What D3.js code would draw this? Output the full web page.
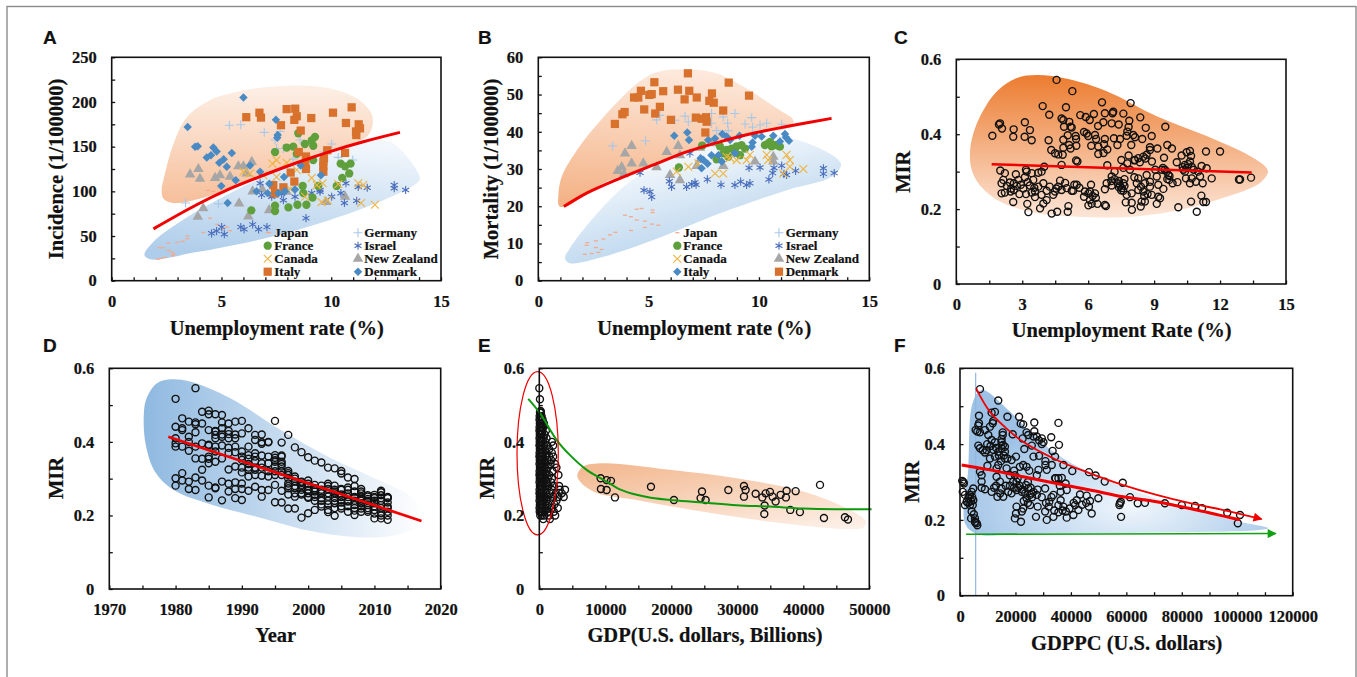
<!DOCTYPE html>
<html>
<head>
<meta charset="utf-8">
<script src="https://cdn.jsdelivr.net/npm/d3@7"></script>
<style>
	html, body { margin: 0; padding: 0; background: #fff; }
	svg { display: block; }
	text { font-family: "Liberation Serif", serif; font-weight: bold; fill: #111; stroke: #111; stroke-width: 0.2; }
</style>
</head>
<body>
<svg id="svg" width="1357" height="677"></svg>
<script>
// panel A - incidence vs unemployment
const aJapan = [[2.1,24],[2.25,25],[2.43,26],[2.78,28],[2.84,30],[2.73,32],[2.58,34],[2.17,37],[2.32,37],[2.58,42],[2.99,43],[3.23,44],[3.45,47],[3.45,50],[4.17,54],[4.48,70],[4.81,63],[5.06,58],[5.24,60],[5.39,56],[4.4,101],[4.63,100],[7.18,54]];
const aFrance = [[6.36,78.7],[7.44,144],[8.5,165],[9.26,161],[9.11,157],[8.8,153],[7.97,149],[8.27,150],[9.18,151],[8.43,142],[9.18,135],[10.43,131],[10.63,128],[10.88,131],[10.82,120],[10.5,115],[10.25,106],[7.44,84],[7.44,78],[8.05,82],[8.46,85],[8.87,85],[9.15,93],[8.73,98],[8.7,106],[9.41,106]];
const aCanada = [[7.51,135],[7.32,131],[7.97,132],[9.11,115],[9.61,109],[9.34,107],[9.56,88],[9.84,90],[8.81,94],[10.32,108],[11.23,109],[11.46,107],[11.36,87],[11.99,85],[6,122],[6.3,120],[6.91,118],[7.51,116],[8.12,103],[8.43,124]];
const aItaly = [[6.13,183],[6.73,188],[6.8,182.5],[7.71,174],[7.97,192],[8.36,192.5],[8.43,184],[8.32,180],[9.09,182],[8.61,168],[10.08,188],[10.93,194],[10.67,176.5],[11.25,175],[11.31,170.5],[11.13,167],[11.14,163],[8.52,144],[8.85,139],[8.82,131],[8.85,125],[9.67,137],[9.82,146],[9.64,128],[9.64,122],[10.63,143],[8.15,121],[8.32,111],[7.36,107],[7.82,104.5],[7.44,98],[9.64,133]];
const aGermany = [[3.36,87],[4.86,86],[5.36,174],[5.88,174.5],[6.95,166],[7.44,157.5],[7.67,167],[10.02,153],[10.32,138],[10.98,135],[8.88,137],[8.27,136],[7.51,148],[8.58,157.5],[7.82,148],[9.64,144]];
const aIsrael = [[4.55,53],[4.78,55.5],[5.01,60],[5.13,52],[5.88,60],[6.03,57.5],[6.42,63],[6.69,57.5],[7.07,60],[8.85,70],[7.82,90],[6.83,96],[7.29,94],[8.35,94],[9.11,98],[9.49,101.5],[9.49,99.5],[10.02,94],[10.44,98],[10.6,87],[11.16,89.5],[10.67,109],[11.23,105],[11.64,104],[12.87,107],[12.87,103.5],[13.39,101.5],[6.76,109],[7.74,97]];
const aNewZealand = [[3.57,119],[3.95,125],[4.02,114],[4.71,115],[4.93,118],[5.39,116.5],[5.77,128],[6,128],[6.38,133],[6.15,120],[6.42,100],[6.86,102],[7.36,96],[7.97,99.5],[5.8,86.5],[4.17,81],[3.92,71.5],[6.22,72],[7.17,79],[10.63,94],[9.76,88]];
const aDenmark = [[3.46,172],[3.8,150],[3.92,150.5],[4.63,149],[4.78,144.5],[4.33,138],[4.52,140.5],[5.1,136],[4.9,132],[5.24,127.5],[5.47,143],[4.99,106],[5.65,112.5],[5.28,87],[6.3,129],[6,205],[6.76,122],[6.6,100],[7.1,98],[7.18,108.5],[7.59,98],[7.85,116],[7.89,100],[7.48,180],[7.56,163],[7.54,160],[8.35,102],[8.61,129],[9.53,118]];
const aTrend = [[1.9,58],[3.87,85],[5.39,103],[6.91,118],[8.43,132],[9.94,144.5],[11.46,155.5],[13.13,166]];
const aOrangeBlob = [[2.28,103],[2.35,112],[2.81,153],[3.42,183],[4.48,202],[6,213],[7.67,218],[9.49,217],[10.85,208],[11.61,195],[11.89,182],[11.69,163],[10.25,146],[8.43,131],[6.15,112],[4.33,94],[2.81,87],[2.35,92]];
const aBlueBlob = [[1.49,28.7],[1.9,43.7],[3.11,66],[4.78,90],[6.91,116],[9.18,139],[11.46,155.5],[12.68,155.5],[13.44,139],[14.04,114.5],[13.89,109],[12.37,90],[9.94,68],[6.91,47],[3.87,32],[1.75,24]];

// panel B - mortality vs unemployment
const bJapan = [[2.11,7.1],[2.42,7.3],[2.22,10.2],[2.19,9.5],[2.61,10.7],[2.61,8.9],[2.95,11.2],[3.25,12.3],[3.5,13],[2.87,8.4],[2.72,7.6],[3.93,17.6],[4.2,17.2],[4.46,19.2],[4.68,19.4],[5.18,19],[5.18,18.3],[4.46,16.3],[4.83,16],[4.2,13.5],[4.83,14.3],[5.14,15.2],[5.44,14.9]];
const bFrance = [[6.37,30.4],[7.43,36.3],[8.08,32.6],[8.23,36.1],[8.38,34.2],[8.53,35.1],[8.76,35.5],[8.99,36.1],[9.21,36.4],[9.37,35.5],[9.14,33.7],[10.27,36.4],[10.42,36.9],[10.57,36.1],[10.73,36.4],[10.95,36],[8.61,33.3],[8.91,34.6],[10.5,37.3],[10.88,36.2]];
const bCanada = [[6.27,29.3],[6.8,30.6],[7.25,31.5],[8.01,28.8],[8.38,28.8],[8.53,33.3],[8.99,32.4],[9.59,33.8],[10.35,33.8],[10.42,32.4],[11.25,33.8],[11.4,32.4],[11.4,30.6],[11.1,28.8],[12.01,30],[8.69,33],[9.44,32.4]];
const bItaly = [[6.16,38.9],[6.75,39.8],[6.83,37.8],[7.36,32.9],[7.4,30.2],[7.7,37.8],[7.67,31.4],[7.85,33.7],[8.16,33.7],[8.01,38.2],[8.31,32],[8.34,39.4],[8.53,38.7],[8.69,37.8],[8.91,34.2],[9.12,38.9],[9.67,36],[9.71,37.1],[9.82,38.9],[10.12,38.7],[10.65,38.9],[10.95,37.4],[11.18,39.4],[11.22,38.5],[11.36,37.6],[7.48,32.4]];
const bGermany = [[3.37,36.2],[4.86,37.6],[5.36,43.2],[5.51,44.4],[6.19,43.1],[6.65,44.2],[6.8,42.7],[7.85,44.9],[7.85,42.3],[8.38,44],[8.58,42.3],[8.91,44.9],[9.37,42.1],[9.67,43.8],[9.71,41.2],[10.05,41.8],[10.35,42.3],[11.03,42],[8.08,40.3],[8.61,40.3]];
const bIsrael = [[4.61,29],[4.79,24.3],[5.06,23.9],[5.14,22.5],[5.94,26.7],[6.04,25.2],[6.72,25.2],[6.95,25.9],[7.1,26.4],[7.15,25.8],[7.66,27.2],[8.28,25.8],[8.91,25.7],[9.17,26.6],[9.44,25.7],[9.59,26.2],[9.55,30.3],[10.05,30.4],[10.45,27.2],[10.62,28.9],[10.68,30.3],[11.03,30.9],[11.13,28.7],[11.25,28.4],[11.66,29.5],[12.92,30.2],[12.92,28.7],[13.41,28.9],[6.87,34.2]];
const bNewZealand = [[3.6,29.5],[3.78,30.5],[3.93,34.2],[4.23,36.2],[4.23,31.5],[4.76,31.5],[3.88,28.6],[5.82,34.6],[6.34,36.2],[6.42,33.7],[5.97,28.4],[6.42,27],[7.33,35.7],[7.18,30.8],[7.93,36.9],[8.38,30.8],[9.82,32],[10.65,33.3],[10.65,32],[5.36,30.5],[7.33,32.4]];
const bDenmark = [[3.47,42.1],[3.81,44.7],[3.91,45.3],[4.34,49.2],[4.53,49.2],[4.65,51],[5.03,49.9],[5.14,50.1],[5.26,53.3],[5.66,50.9],[4.8,46],[5.3,44.9],[5.51,46.7],[6.01,43.2],[6.33,51.3],[6.63,48.7],[6.84,51],[6.78,55.7],[7.18,49.2],[7.14,43.8],[7.4,43.5],[7.6,43.9],[7.57,39.8],[7.75,48.3],[7.95,47.8],[7.87,50.3],[8.38,45.7],[8.63,53.2],[9.55,49.7],[7.63,42.7]];
const bTrend = [[1.16,19.9],[2.19,23.5],[3.7,27.5],[5.21,31.1],[6.72,34.6],[8.23,37.3],[9.74,39.6],[11.25,41.4],[13.29,43.6]];
const bOrangeBlob = [[0.91,23],[1.06,27.9],[1.74,35],[2.95,43.9],[4.46,52.9],[5.36,56],[6.72,56.8],[8.08,55.7],[9.44,51.6],[10.8,46.3],[11.56,43.1],[11.48,41.4],[9.74,39.6],[7.48,36.5],[5.21,31.1],[2.95,26.2],[1.28,20],[0.95,20]];
const bBlueBlob = [[1.21,6],[1.43,8.7],[2.95,19.9],[4.46,27.9],[6.72,34.2],[8.99,38.2],[10.5,39.1],[12.01,37.3],[13.52,32.9],[13.72,31.1],[13.29,27.9],[11.25,24.3],[8.23,18.1],[5.21,10.9],[2.95,6.4],[1.43,4.7]];

const legendLeft = ['Japan', 'France', 'Canada', 'Italy'];
const legendRight = ['Germany', 'Israel', 'New Zealand', 'Denmark'];

// panel C - MIR vs unemployment
const cPoints = [[4.56,.545],[5.28,.515],[3.93,.475],[4.23,.452],[4.99,.472],[6.63,.485],[7.93,.483],[5.64,.451],[5.89,.446],[6.26,.454],[6.76,.456],[7.14,.46],[7.11,.456],[7.6,.455],[8.37,.445],[7.87,.436],[4.79,.442],[4.87,.438],[5.14,.433],[6.07,.438],[6.69,.432],[7.07,.429],[7.39,.426],[6.45,.422],[4.9,.42],[5.2,.42],[5.25,.418],[7.84,.419],[8.62,.417],[9.51,.42],[1.99,.429],[1.94,.426],[2.08,.415],[1.64,.396],[2.61,.413],[2.59,.393],[3.12,.432],[3.35,.411],[3.11,.393],[3.43,.384],[4.2,.384],[4.87,.385],[5.07,.397],[5.43,.395],[5.45,.387],[5.81,.406],[5.93,.402],[6.31,.398],[6.36,.387],[6.76,.387],[7.17,.389],[7.45,.387],[7.75,.396],[7.78,.407],[8.05,.398],[8.13,.392],[8.46,.387],[8.89,.395],[7.96,.371],[7.33,.371],[6.72,.373],[6.14,.369],[6.46,.367],[6.87,.359],[6.46,.347],[5.46,.369],[5.13,.371],[4.87,.364],[4.32,.358],[4.49,.349],[4.64,.346],[4.84,.345],[8.81,.365],[9.15,.362],[8.81,.358],[8.66,.345],[8.51,.34],[8.28,.336],[8.13,.331],[7.84,.343],[7.51,.331],[7.78,.322],[9.45,.337],[9.6,.371],[9.81,.362],[10.03,.325],[10.25,.343],[10.48,.352],[10.63,.355],[10.68,.342],[10.63,.327],[11.36,.354],[12,.354],[5.45,.33],[5.51,.327],[4.79,.318],[4,.313],[6.87,.317],[8.9,.327],[3.17,.305],[3.88,.3],[3.73,.297],[2,.303],[2.21,.296],[2.71,.293],[3.43,.296],[3.12,.285],[2.14,.278],[2.06,.269],[2.44,.271],[2.82,.278],[2.62,.269],[2.94,.265],[3.35,.263],[3.5,.278],[3.73,.26],[3.96,.269],[2.06,.242],[2.21,.244],[2.47,.247],[2.62,.251],[2.87,.24],[3.17,.24],[3.43,.244],[3.58,.247],[3.58,.232],[3.88,.238],[4.11,.249],[2.59,.219],[3.23,.214],[3.28,.192],[3.81,.202],[3.96,.215],[4.11,.224],[4.34,.188],[4.59,.193],[5.07,.193],[5.1,.208],[4.41,.238],[4.49,.247],[4.72,.276],[4.64,.26],[4.79,.251],[5.02,.256],[5.25,.249],[5.37,.265],[5.48,.265],[5.32,.249],[5.85,.247],[6.13,.265],[6.01,.242],[6.08,.247],[6.31,.242],[5.81,.233],[6.08,.224],[6.01,.21],[6.16,.214],[6.42,.214],[6.76,.211],[6.81,.208],[6.76,.253],[6.84,.269],[7.07,.263],[7.07,.287],[7.34,.269],[7.45,.263],[7.6,.269],[7.53,.256],[7.6,.249],[7.75,.238],[7.71,.218],[7.98,.242],[7.98,.217],[7.99,.198],[8.21,.269],[8.28,.282],[8.28,.251],[8.51,.247],[8.43,.22],[8.39,.207],[8.58,.22],[8.66,.291],[8.81,.273],[8.58,.269],[8.81,.26],[8.89,.238],[9.12,.214],[9.27,.229],[9.19,.233],[9.12,.287],[9.19,.265],[9.42,.254],[9.49,.305],[9.65,.291],[9.57,.3],[9.69,.278],[9.84,.269],[10.06,.272],[10.1,.205],[10.45,.282],[10.33,.305],[10.63,.269],[10.71,.282],[10.9,.273],[11.09,.287],[11.21,.269],[10.71,.313],[10.4,.318],[11.16,.315],[11.39,.309],[11.62,.282],[10.68,.22],[10.94,.193],[11.15,.236],[11.24,.219],[11.36,.219],[12.86,.279],[12.91,.279],[13.41,.284],[7.4,.258],[7.5,.25],[7.65,.262],[10.5,.31],[10.3,.312],[9.4,.31],[9.7,.288],[2.3,.262],[2.5,.255],[2.75,.262],[3.05,.255],[3.25,.272],[3.55,.257],[3.2,.3],[4.25,.26],[4.55,.255],[4.95,.27],[5.6,.257],[6.2,.235],[6.35,.23],[7.2,.28],[7.4,.275],[7.65,.28],[7.9,.305],[8.1,.285],[8.4,.26],[8.7,.24],[8.55,.235],[8.1,.33],[8.35,.325],[8.6,.335],[9.05,.305],[9.35,.305],[9.6,.28],[10.4,.3],[10.55,.32],[10.8,.305],[11,.3],[7.2,.3],[7.6,.31],[7.05,.275],[5.2,.362],[6,.395],[6.7,.35]];
const cTrend = [[1.61,.32],[13.44,.298]];
const cBlob = [[.62,.34],[.7,.385],[1.08,.447],[1.84,.514],[2.75,.55],[3.66,.558],[4.87,.55],[6.84,.515],[9.12,.448],[11.39,.395],[13.36,.342],[14.12,.31],[14.17,.297],[13.82,.27],[12.15,.23],[9.87,.194],[7.6,.178],[5.32,.18],[3.35,.193],[1.84,.225],[1,.269],[.7,.305]];

// panel D - MIR by year
const dYears = [
	[1980,[.517,.441,.41,.396,.387,.301,.281]],
	[1981,[.464,.432,.437,.387,.315,.295]],
	[1982,[.455,.414,.4,.376,.292,.272]],
	[1983,[.546,.453,.448,.426,.387,.355,.303,.269]],
	[1984,[.482,.45,.396,.354,.324,.295]],
	[1985,[.485,.475,.432,.392,.39,.36,.354,.342,.281,.249]],
	[1986,[.475,.43,.428,.419,.41,.387,.374,.346,.276,.274]],
	[1987,[.473,.453,.437,.42,.414,.39,.355,.292,.241]],
	[1988,[.45,.43,.421,.41,.384,.37,.325,.286,.265]],
	[1989,[.455,.42,.41,.387,.372,.333,.29,.272,.247]],
	[1990,[.457,.423,.374,.36,.351,.33,.317,.287,.272,.242]],
	[1991,[.437,.387,.364,.354,.34,.33,.324,.306,.267]],
	[1992,[.419,.405,.369,.36,.348,.33,.324,.31,.278]],
	[1993,[.42,.399,.395,.363,.342,.33,.308,.269,.251]],
	[1994,[.4,.399,.36,.342,.32,.306,.269]],
	[1995,[.457,.364,.357,.35,.346,.333,.32,.31,.283,.236]],
	[1996,[.398,.363,.36,.346,.34,.333,.32,.31,.267,.235]],
	[1997,[.419,.321,.315,.31,.3,.287,.28,.274,.257,.219]],
	[1998,[.385,.306,.3,.292,.28,.274,.26,.251,.219]],
	[1999,[.372,.292,.29,.283,.28,.27,.26,.257,.194]],
	[2000,[.358,.295,.286,.28,.27,.269,.26,.25,.248,.206]],
	[2001,[.349,.283,.274,.27,.265,.256,.25,.24,.215]],
	[2002,[.344,.281,.27,.265,.26,.247,.24,.23,.224]],
	[2003,[.33,.286,.28,.272,.26,.251,.24,.23,.215,.209]],
	[2004,[.328,.281,.27,.265,.26,.247,.24,.233,.22,.199]],
	[2005,[.321,.314,.272,.27,.257,.25,.242,.235,.225,.219]],
	[2006,[.303,.276,.27,.26,.25,.24,.238,.225,.21]],
	[2007,[.299,.28,.265,.25,.247,.24,.228,.22,.213,.201]],
	[2008,[.272,.265,.26,.251,.245,.24,.233,.225,.219,.21]],
	[2009,[.255,.251,.245,.24,.228,.22,.215,.21]],
	[2010,[.256,.25,.247,.24,.233,.225,.215,.205,.192]],
	[2011,[.267,.263,.255,.247,.24,.228,.22,.206,.2,.192]],
	[2012,[.25,.248,.247,.235,.224,.22,.21,.2,.188]]
];
const dTrend = [[1978.9,.414],[2017.1,.185]];
const dBlob = [[1975.2,.473],[1975.6,.517],[1977.1,.558],[1979.2,.57],[1982.2,.564],[1988.2,.519],[1995.8,.433],[2003.3,.357],[2010.9,.294],[2015.9,.247],[2017.4,.21],[2016.9,.174],[2013.4,.147],[2008.4,.14],[2000.8,.156],[1993.2,.192],[1985.7,.228],[1979.7,.269],[1976.9,.319],[1975.5,.392]];

// panel E - MIR vs GDP
const eRight = [[9290,.301],[10200,.296],[10860,.294],[9340,.272],[10200,.269],[11460,.249],[16920,.278],[20400,.242],[24650,.265],[24440,.247],[25200,.242],[28640,.269],[31010,.28],[31260,.269],[31010,.251],[32780,.259],[33790,.249],[34290,.26],[34950,.264],[35350,.251],[35810,.238],[36570,.256],[37470,.267],[37370,.249],[38840,.266],[34140,.227],[34090,.204],[38030,.215],[39490,.209],[42530,.283],[43130,.193],[46310,.195],[46770,.189]];
const eLeftRows = [
	[.546,[0]],[.516,[100]],[.484,[200]],
	[.48,[100,250]],[.47,[50,200,350]],[.46,[30,150,300,500]],[.45,[80,220,420,700]],
	[.44,[40,180,350,600]],[.43,[20,130,280,480,1000]],[.42,[70,210,400,800]],
	[.41,[30,150,320,650,1100]],[.40,[60,240,500,900,1900]],[.39,[20,130,300,700,1200,2100]],
	[.38,[80,200,450,850,1500]],[.37,[40,160,350,600,1100,1900]],[.36,[20,120,280,520,900,1500,2100]],
	[.35,[70,230,430,750,1250,1800]],[.34,[30,150,330,600,1000,1700,2400]],[.33,[90,250,500,800,1300,2600]],
	[.32,[40,180,400,700,1100,2000]],[.31,[20,130,300,600,950,1500,2900]],[.30,[70,220,480,800,1300,1900]],
	[.29,[30,160,350,650,1100,1800]],[.28,[90,250,500,850,1400,2200,3000]],[.27,[40,180,400,700,1150,1900,3100,3900]],
	[.26,[20,130,300,600,1000,1600,2500,3400]],[.25,[70,220,480,800,1300,2100,2900,3700]],[.24,[30,160,350,650,1100,1800,2600]],
	[.23,[90,250,500,850,1400,2300]],[.22,[40,180,400,700,1150,1900,2800]],[.21,[60,230,450,800,1300,2200]],
	[.20,[150,400,750,1500,2400]],[.19,[600,1600]]
];
const eCurve = [[-1670,.517],[100,.478],[2630,.405],[4650,.364],[7170,.324],[9700,.297],[11200,.281],[12200,.271],[14750,.256],[16900,.248],[20400,.241],[24850,.235],[29900,.228],[34950,.224],[40000,.219],[45050,.217],[50350,.217]];
const eEllipse = [[-250,.369],[3130,.222]];
const eBlob = [[5760,.306],[6670,.333],[9700,.342],[19800,.324],[29900,.301],[40000,.265],[47580,.21],[49500,.183],[49090,.167],[46560,.163],[34950,.183],[24850,.21],[14750,.242],[8180,.265]];

// panel F - MIR vs GDP per capita
const fPoints = [[7200,.545],[13800,.515],[6850,.475],[11400,.483],[12600,.485],[17100,.472],[21300,.472],[21900,.454],[22800,.452],[26800,.457],[35500,.456],[6850,.455],[6600,.449],[5650,.437],[6250,.433],[7200,.431],[9000,.437],[10800,.446],[11800,.455],[12000,.461],[10200,.424],[11400,.411],[12600,.405],[15400,.431],[15400,.424],[15000,.413],[19000,.426],[24000,.431],[22600,.415],[24600,.424],[26800,.434],[27700,.42],[26500,.42],[29500,.415],[32900,.418],[30100,.405],[35700,.398],[33400,.382],[6600,.396],[7200,.389],[8200,.384],[9600,.384],[9000,.378],[10800,.362],[12600,.367],[13800,.38],[15000,.389],[16200,.393],[16200,.38],[17100,.362],[18600,.358],[20200,.367],[23200,.387],[25900,.396],[28500,.369],[26500,.367],[30800,.355],[30800,.345],[33100,.345],[34300,.367],[37300,.345],[40500,.329],[46500,.326],[48900,.317],[52200,.301],[58700,.298],[61300,.26],[64100,.244],[66700,.245],[73900,.244],[80000,.239],[84800,.237],[87300,.231],[96400,.219],[101000,.213],[100200,.191],[57700,.244],[57500,.239],[58100,.208],[58000,.248],[49900,.257],[47500,.217],[46500,.235],[46900,.25],[45700,.264],[43300,.267],[42100,.252],[41500,.239],[42700,.226],[40900,.213],[38500,.206],[38200,.222],[37300,.235],[35500,.239],[33700,.208],[31300,.2],[30700,.222],[32200,.248],[33700,.266],[36300,.252],[36300,.274],[38500,.279],[38100,.296],[36700,.311],[34300,.31],[31300,.332],[28300,.332],[27700,.318],[30700,.283],[27700,.266],[28000,.235],[27400,.208],[25300,.239],[22800,.23],[22000,.195],[22300,.222],[20400,.235],[20200,.217],[19800,.204],[24000,.257],[26500,.274],[24600,.283],[22300,.274],[20400,.279],[18600,.27],[15600,.261],[13500,.261],[12300,.285],[11400,.274],[9000,.281],[7800,.285],[7800,.301],[7800,.318],[7200,.327],[13200,.314],[14400,.301],[15000,.283],[17400,.274],[19200,.301],[19800,.318],[21600,.34],[22800,.345],[16800,.336],[13200,.336],[9900,.343],[16200,.362],[18000,.318],[23800,.292],[25300,.266],[20400,.301],[800,.303],[1400,.296],[1000,.274],[1800,.266],[2400,.248],[3600,.266],[4200,.274],[4800,.283],[3600,.239],[3000,.257],[4800,.252],[4200,.222],[4000,.204],[5400,.204],[6000,.191],[6250,.186],[5400,.195],[4600,.239],[1800,.239],[3000,.245],[3300,.262],[4000,.25],[4400,.26],[1200,.3],[5500,.193],[5000,.215],[13000,.39],[14000,.37],[14800,.355],[15800,.37],[13800,.345],[12000,.385],[11000,.395],[9800,.4],[15500,.398],[15000,.405],[19500,.33],[20800,.31],[21500,.29],[22500,.28],[23500,.27],[21000,.285],[19500,.285],[24500,.3],[25500,.285],[26000,.26],[23000,.25],[24500,.245],[25800,.27],[28000,.28],[29500,.26],[31000,.245],[32000,.235],[34000,.225],[35500,.22],[37000,.225],[39500,.23],[41000,.245],[44000,.24],[45500,.245],[33000,.26],[34500,.31],[35500,.31],[36000,.29],[24000,.34],[25000,.33],[28500,.41],[29500,.4],[16500,.29],[18000,.29],[13000,.29],[14500,.27]];
const fThick = [[600,.345],[10800,.332],[22800,.314],[34900,.296],[46900,.279],[58900,.261],[70900,.248],[83000,.23],[101000,.2]];
const fThin = [[5800,.547],[10800,.485],[16800,.441],[22800,.406],[34900,.358],[46900,.323],[58900,.292],[70900,.266],[83000,.244],[95000,.226],[108800,.202]];
const fGreen = [[2200,.162],[113900,.164]];
const fVertical = [[5650,0],[5650,.588]];
const fBlob = [[4600,.51],[7800,.543],[16800,.494],[26500,.424],[37300,.362],[58900,.287],[83000,.23],[101000,.195],[111200,.178],[107000,.173],[70900,.167],[22800,.163],[6000,.163],[1800,.191],[3000,.336]];

const svg = d3.select('#svg');
const defs = svg.append('defs');

// outer figure border, runs off the bottom of the page
svg.append('rect').attr('x', 7).attr('y', 6.5).attr('width', 1349).attr('height', 700)
	.attr('fill', 'none').attr('stroke', '#8c8c8c').attr('stroke-width', 1.4);

function gradient(id, x1, y1, x2, y2, from, to) {
	const g = defs.append('linearGradient').attr('id', id)
		.attr('x1', x1).attr('y1', y1).attr('x2', x2).attr('y2', y2);
	g.append('stop').attr('offset', '0%').attr('stop-color', from);
	g.append('stop').attr('offset', '100%').attr('stop-color', to);
}
gradient('aOrange', 0.3, 0, 0.3, 1, '#fdefe6', '#f6bf9a');
gradient('bOrange', 0.4, 0, 0.3, 1, '#fde9dc', '#f4b285');
gradient('aBlue', 0.6, 0, 0.4, 1, '#f2f7fc', '#aecdea');
gradient('bBlue', 0.2, 0.1, 0.7, 1, '#ffffff', '#a9cbe9');
gradient('cOrange', 0, 0, 0, 1, '#ec7c30', '#fce6d8');
gradient('dBlue', 0, 0, 1, 0, '#8fb9e0', '#ffffff');
gradient('eOrange', 0.2, 0, 0.9, 1, '#f3bb94', '#fdf0e8');
const fGrad = defs.append('radialGradient').attr('id', 'fBlue').attr('cx', 0.55).attr('cy', 0.8).attr('r', 0.6);
fGrad.append('stop').attr('offset', '0%').attr('stop-color', '#f0f6fc');
fGrad.append('stop').attr('offset', '100%').attr('stop-color', '#9dc2e6');

function arrow(id, color) {
	defs.append('marker').attr('id', id).attr('markerUnits', 'userSpaceOnUse')
		.attr('viewBox', '0 -5 10 10').attr('refX', 9).attr('markerWidth', 14).attr('markerHeight', 9)
		.attr('orient', 'auto')
		.append('path').attr('d', 'M0,-5L10,0L0,5Z').attr('fill', color);
}
arrow('redArrow', '#f00000');
arrow('greenArrow', '#12a012');

const dash = { draw(ctx) { ctx.moveTo(-2, 0); ctx.lineTo(2, 0); } };
const filled = (type, size, color) => ({ type, size, fill: color, stroke: 'none', width: 0 });
const stroked = (type, size, color, width) => ({ type, size, fill: 'none', stroke: color, width });

const stGreen = filled(d3.symbolCircle, 54, '#5f9f3c');
const stSquare = filled(d3.symbolSquare, 68, '#d8712c');
const stDiamond = filled(d3.symbolDiamond2, 46, '#4a8ac4');
const stTriangle = filled(d3.symbolTriangle, 48, '#a6a6a6');
const stCross = stroked(d3.symbolPlus, 28, '#a9c8e8', 1.1);
const stTimes = stroked(d3.symbolTimes, 42, '#efb440', 1.1);
const stStar = stroked(d3.symbolAsterisk, 46, '#4a6ebd', 1.1);
const stDash = stroked(dash, 10, '#f3a98c', 1.3);

function symbolPath(sel, st) {
	sel.attr('d', d3.symbol().type(st.type).size(st.size))
		.attr('fill', st.fill).attr('stroke', st.stroke).attr('stroke-width', st.width);
}

// frame, ticks, labels, titles
function panel(o) {
	const x = d3.scaleLinear().domain(o.xDomain).range([o.left, o.right]);
	const y = d3.scaleLinear().domain(o.yDomain).range([o.bottom, o.top]);
	const g = svg.append('g');
	const marks = g.append('g');
	const axes = g.append('g');

	axes.append('rect').attr('x', o.left).attr('y', o.top)
		.attr('width', o.right - o.left).attr('height', o.bottom - o.top)
		.attr('fill', 'none').attr('stroke', '#111').attr('stroke-width', 1.6);

	const xAxis = d3.axisBottom(x).tickValues(o.xTicks).tickFormat((d) => `${d}`).tickSizeInner(0).tickSizeOuter(0).tickPadding(14.5);
	const xMinor = d3.axisBottom(x).tickValues(o.xMinor).tickFormat('').tickSizeInner(-3.5).tickSizeOuter(0);
	const yAxis = d3.axisLeft(y).tickValues(o.yTicks).tickFormat((d) => `${d}`).tickSizeInner(0).tickSizeOuter(0).tickPadding(15);
	const yMinor = d3.axisLeft(y).tickValues(o.yMinor).tickFormat('').tickSizeInner(-3.5).tickSizeOuter(0);

	[[xAxis, 'bottom'], [xMinor, 'bottom'], [yAxis, 'left'], [yMinor, 'left']].forEach(([ax, side]) => {
		const a = axes.append('g')
			.attr('transform', side === 'bottom' ? `translate(0,${o.bottom})` : `translate(${o.left},0)`)
			.call(ax);
		a.select('.domain').remove();
		a.selectAll('line').attr('stroke', '#111').attr('stroke-width', 1.3);
		a.selectAll('text').attr('font-size', 16.5).attr('font-family', '"Liberation Serif", serif').attr('fill', '#111');
	});

	axes.append('text').attr('x', o.xTitle[1]).attr('y', o.xTitle[2]).attr('text-anchor', 'middle')
		.attr('font-size', 20.5).text(o.xTitle[0]);
	axes.append('text').attr('transform', `translate(${o.yTitle[1]},${o.yTitle[2]}) rotate(-90)`)
		.attr('text-anchor', 'middle').attr('font-size', 20.5).text(o.yTitle[0]);
	axes.append('text').attr('x', o.letter[1]).attr('y', o.letter[2]).text(o.letter[0])
		.style('font-family', '"Liberation Sans", sans-serif').attr('font-size', 19);

	return { x, y, marks };
}

function range(a, b, step) { return d3.range(a, b + step / 2, step).map((v) => +v.toFixed(3)); }

function blob(p, pts, fill) {
	const line = d3.line().x((d) => p.x(d[0])).y((d) => p.y(d[1])).curve(d3.curveCatmullRomClosed.alpha(0.5));
	p.marks.append('path').attr('d', line(pts)).attr('fill', `url(#${fill})`).attr('stroke', 'none');
}

function curve(p, pts, color, width, markerId) {
	const line = d3.line().x((d) => p.x(d[0])).y((d) => p.y(d[1])).curve(d3.curveCatmullRom.alpha(0.5));
	const path = p.marks.append('path').attr('d', line(pts)).attr('fill', 'none')
		.attr('stroke', color).attr('stroke-width', width);
	if (markerId) path.attr('marker-end', `url(#${markerId})`);
}

function series(p, pts, st) {
	p.marks.append('g').selectAll('path').data(pts).enter().append('path')
		.attr('transform', (d) => `translate(${p.x(d[0])},${p.y(d[1])})`)
		.call(symbolPath, st);
}

function rings(p, pts) {
	p.marks.append('g').selectAll('circle').data(pts).enter().append('circle')
		.attr('cx', (d) => p.x(d[0])).attr('cy', (d) => p.y(d[1])).attr('r', 3.5)
		.attr('fill', 'none').attr('stroke', '#111').attr('stroke-width', 1.4);
}

function legend(p, names, styles, symbolX, textX) {
	const rows = [232.7, 245.7, 258.7, 271.7];
	names.forEach((name, i) => {
		p.marks.append('path').attr('transform', `translate(${symbolX},${rows[i]})`).call(symbolPath, styles[i]);
		p.marks.append('text').attr('x', textX).attr('y', rows[i] + 4).attr('font-size', 13).text(name);
	});
}

// A
const pa = panel({
	left: 111.7, right: 441, top: 57.3, bottom: 280.7, xDomain: [0, 15], yDomain: [0, 250],
	xTicks: [0, 5, 10, 15], xMinor: range(0, 15, 1), yTicks: [0, 50, 100, 150, 200, 250], yMinor: range(0, 250, 25),
	xTitle: ['Unemployment rate (%)', 276.7, 335], yTitle: ['Incidence (1/100000)', 63.3, 169], letter: ['A', 43, 44]
});
blob(pa, aOrangeBlob, 'aOrange');
blob(pa, aBlueBlob, 'aBlue');
series(pa, aJapan, stDash);
series(pa, aGermany, stCross);
series(pa, aNewZealand, stTriangle);
series(pa, aIsrael, stStar);
series(pa, aFrance, stGreen);
series(pa, aCanada, stTimes);
series(pa, aItaly, stSquare);
series(pa, aDenmark, stDiamond);
curve(pa, aTrend, '#f00000', 3);
legend(pa, legendLeft, [stDash, stGreen, stTimes, stSquare], 267.7, 274.3);
legend(pa, legendRight, [stCross, stStar, stTriangle, stDiamond], 358, 364.3);

// B
const pb = panel({
	left: 538.3, right: 869.3, top: 57.3, bottom: 280.7, xDomain: [0, 15], yDomain: [0, 60],
	xTicks: [0, 5, 10, 15], xMinor: range(0, 15, 1), yTicks: [0, 10, 20, 30, 40, 50, 60], yMinor: range(0, 60, 5),
	xTitle: ['Unemployment rate (%)', 704.3, 335], yTitle: ['Mortality (1/100000)', 498, 169], letter: ['B', 478, 44]
});
blob(pb, bOrangeBlob, 'bOrange');
blob(pb, bBlueBlob, 'bBlue');
series(pb, bJapan, stDash);
series(pb, bGermany, stCross);
series(pb, bNewZealand, stTriangle);
series(pb, bIsrael, stStar);
series(pb, bFrance, stGreen);
series(pb, bCanada, stTimes);
series(pb, bItaly, stDiamond);
series(pb, bDenmark, stSquare);
curve(pb, bTrend, '#f00000', 3);
legend(pb, legendLeft, [stDash, stGreen, stTimes, stDiamond], 677.3, 683.3);
legend(pb, legendRight, [stCross, stStar, stTriangle, stSquare], 779, 785.7);

// C
const pc = panel({
	left: 956.3, right: 1286, top: 59.3, bottom: 284, xDomain: [0, 15], yDomain: [0, .6],
	xTicks: [0, 3, 6, 9, 12, 15], xMinor: range(0, 15, 1.5), yTicks: [0, .2, .4, .6], yMinor: range(0, .6, .1),
	xTitle: ['Unemployment Rate (%)', 1121.7, 336.7], yTitle: ['MIR', 910, 171.7], letter: ['C', 894, 44]
});
blob(pc, cBlob, 'cOrange');
rings(pc, cPoints);
curve(pc, cTrend, '#f00000', 2.5);

// D
const pd = panel({
	left: 109.3, right: 440.7, top: 368.3, bottom: 589, xDomain: [1970, 2020], yDomain: [0, .6],
	xTicks: [1970, 1980, 1990, 2000, 2010, 2020], xMinor: range(1970, 2020, 5), yTicks: [0, .2, .4, .6], yMinor: range(0, .6, .1),
	xTitle: ['Year', 275.7, 642.3], yTitle: ['MIR', 63.3, 478], letter: ['D', 43, 351.7]
});
blob(pd, dBlob, 'dBlue');
rings(pd, dYears.flatMap(([yr, vals]) => vals.map((v) => [yr, v])));
curve(pd, dTrend, '#f00000', 2.7);

// E
const pe = panel({
	left: 539.3, right: 869.3, top: 368.3, bottom: 589, xDomain: [0, 50000], yDomain: [0, .6],
	xTicks: [0, 10000, 20000, 30000, 40000, 50000], xMinor: range(0, 50000, 5000), yTicks: [0, .2, .4, .6], yMinor: range(0, .6, .1),
	xTitle: ['GDP(U.S. dollars, Billions)', 705, 642.3], yTitle: ['MIR', 494, 478], letter: ['E', 478, 351.7]
});
blob(pe, eBlob, 'eOrange');
rings(pe, eLeftRows.flatMap(([v, xs]) => xs.map((d) => [d, v])));
rings(pe, eRight);
curve(pe, eCurve, '#0e9a0e', 2);
pe.marks.append('ellipse')
	.attr('cx', pe.x(eEllipse[0][0])).attr('cy', pe.y(eEllipse[0][1]))
	.attr('rx', pe.x(eEllipse[1][0]) - pe.x(0)).attr('ry', pe.y(0) - pe.y(eEllipse[1][1]))
	.attr('fill', 'none').attr('stroke', '#f00000').attr('stroke-width', 1.2);

// F
const pf = panel({
	left: 960, right: 1292.7, top: 368.3, bottom: 595.7, xDomain: [0, 120000], yDomain: [0, .6],
	xTicks: [0, 20000, 40000, 60000, 80000, 100000, 120000], xMinor: range(0, 120000, 10000), yTicks: [0, .2, .4, .6], yMinor: range(0, .6, .1),
	xTitle: ['GDPPC (U.S. dollars)', 1126.7, 650], yTitle: ['MIR', 919.3, 481.7], letter: ['F', 894, 351.7]
});
blob(pf, fBlob, 'fBlue');
curve(pf, fVertical, '#8fb8e0', 1.2);
rings(pf, fPoints);
curve(pf, fThick, '#f00000', 3);
curve(pf, fThin, '#f00000', 1.8, 'redArrow');
curve(pf, fGreen, '#12a012', 1.6, 'greenArrow');
</script>
</body>
</html>
